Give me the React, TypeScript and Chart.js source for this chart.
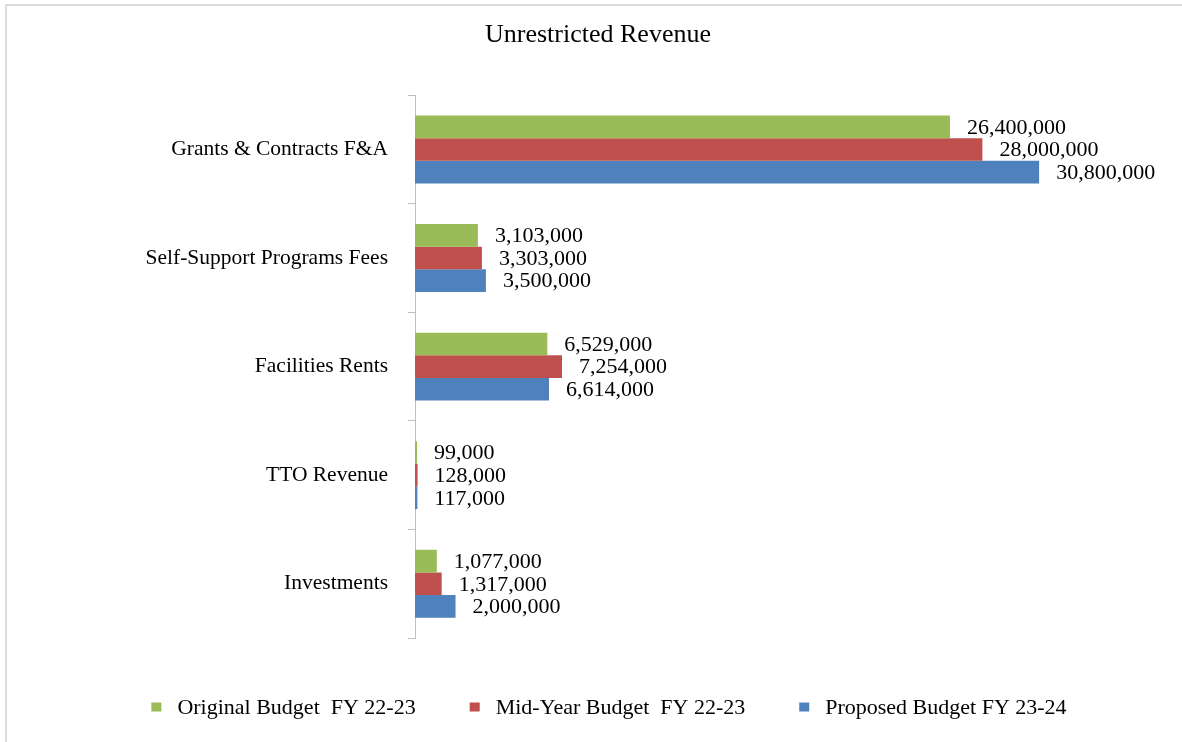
import React, { useEffect, useRef } from "react";
import { Chart, registerables } from "chart.js";

Chart.register(...registerables);

const categories = [
  "Grants & Contracts F&A",
  "Self-Support Programs Fees",
  "Facilities Rents",
  "TTO Revenue",
  "Investments",
];
const originalBudget = [26400000, 3103000, 6529000, 99000, 1077000];
const midYearBudget = [28000000, 3303000, 7254000, 128000, 1317000];
const proposedBudget = [30800000, 3500000, 6614000, 117000, 2000000];
const seriesLabels = [
  "Original Budget  FY 22-23",
  "Mid-Year Budget  FY 22-23",
  "Proposed Budget FY 23-24",
];
const seriesColors = ["#9BBB59", "#C0504D", "#4F81BD"];
const chartTitle = "Unrestricted Revenue";

const FONT = "'Liberation Serif', 'Times New Roman', serif";

const valueLabels = {
  id: "valueLabels",
  afterDatasetsDraw(chart: any) {
    const ctx = chart.ctx;
    ctx.save();
    ctx.font = `22px ${FONT}`;
    ctx.fillStyle = "#000";
    ctx.textAlign = "left";
    ctx.textBaseline = "middle";
    chart.data.datasets.forEach((ds: any, di: number) => {
      const meta = chart.getDatasetMeta(di);
      meta.data.forEach((el: any, i: number) => {
        const v = ds.data[i];
        ctx.fillText(Number(v).toLocaleString("en-US"), el.x + 17, el.y + 1);
      });
    });
    ctx.restore();
  },
};

const bottomLegend = {
  id: "bottomLegend",
  afterDraw(chart: any) {
    const ctx = chart.ctx;
    ctx.save();
    ctx.font = `22px ${FONT}`;
    ctx.textBaseline = "middle";
    ctx.textAlign = "left";
    const boxW = 10;
    const boxH = 9;
    const boxGap = 16;
    const itemGap = 54;
    const items = chart.data.datasets.map((ds: any) => ({
      text: ds.label,
      color: ds.backgroundColor,
      w: boxW + boxGap + ctx.measureText(ds.label).width,
    }));
    const total =
      items.reduce((s: number, it: any) => s + it.w, 0) + itemGap * (items.length - 1);
    let x = 609 - total / 2;
    const y = 707;
    items.forEach((it: any) => {
      ctx.fillStyle = it.color;
      ctx.fillRect(x, y - boxH / 2, boxW, boxH);
      ctx.fillStyle = "#000";
      ctx.fillText(it.text, x + boxW + boxGap, y + 1);
      x += it.w + itemGap;
    });
    ctx.restore();
  },
};

export default function App() {
  const ref = useRef<HTMLCanvasElement | null>(null);

  useEffect(() => {
    if (!ref.current) return;
    Chart.defaults.color = "#000";
    const chart = new Chart(ref.current, {
      type: "bar",
      data: {
        labels: categories,
        datasets: [
          { label: seriesLabels[0], data: originalBudget, backgroundColor: seriesColors[0] },
          { label: seriesLabels[1], data: midYearBudget, backgroundColor: seriesColors[1] },
          { label: seriesLabels[2], data: proposedBudget, backgroundColor: seriesColors[2] },
        ],
      },
      options: {
        indexAxis: "y",
        animation: false,
        responsive: false,
        devicePixelRatio: 1,
        datasets: {
          bar: { categoryPercentage: 0.625, barPercentage: 1, borderWidth: 0 },
        },
        layout: { padding: { left: 14, right: 0, top: 0, bottom: 104 } },
        plugins: {
          legend: { display: false },
          tooltip: { enabled: false },
          title: {
            display: true,
            text: chartTitle,
            color: "#000",
            font: { family: FONT, size: 26, weight: "normal" },
            padding: { top: 20, bottom: 44 },
          },
        },
        scales: {
          x: {
            display: false,
            min: 0,
            max: 37850000,
          },
          y: {
            afterFit(scale: any) {
              scale.width = 401;
            },
            grid: {
              drawOnChartArea: false,
              drawTicks: true,
              tickLength: 7,
              color: "#BFBFBF",
              offset: true,
            },
            border: { display: true, color: "#BFBFBF" },
            ticks: {
              color: "#000",
              padding: 20,
              font: { family: FONT, size: 21.5 },
            },
          },
        },
      },
      plugins: [valueLabels, bottomLegend],
    });
    return () => chart.destroy();
  }, []);

  return (
    <div
      style={{
        position: "fixed",
        left: 0,
        top: 0,
        width: 1182,
        height: 742,
        background: "#fff",
        overflow: "hidden",
      }}
    >
      <canvas
        ref={ref}
        width={1182}
        height={742}
        style={{ position: "absolute", left: 0, top: 0, width: 1182, height: 742 }}
      />
      <div
        style={{
          position: "absolute",
          left: 5,
          top: 4,
          right: -10,
          bottom: -10,
          borderLeft: "2px solid #DCDCDC",
          borderTop: "2px solid #DCDCDC",
          pointerEvents: "none",
        }}
      />
    </div>
  );
}
